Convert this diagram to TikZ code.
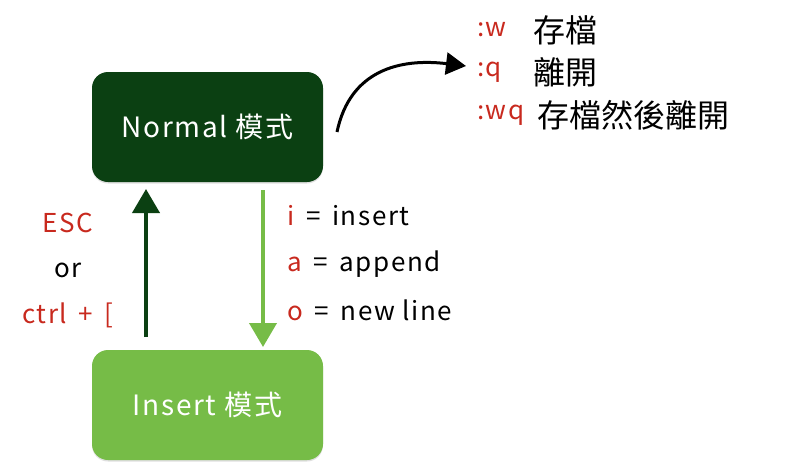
\documentclass[tikz,border=0pt]{standalone}
\usepackage{fontspec}
\setmainfont{Noto Sans CJK TC}
\usetikzlibrary{arrows.meta,shadows}
\definecolor{darkg}{HTML}{0B4012}
\definecolor{lightg}{HTML}{76BC47}
\definecolor{keyred}{HTML}{C8291E}
\newcommand{\wide}{\addfontfeature{LetterSpace=6}}
\newcommand{\eqsp}{\hspace{0.45em}=\hspace{0.45em}}
\begin{document}
\begin{tikzpicture}[x=1pt,y=-1pt,
  modebox/.style={rounded corners=16pt,minimum width=231pt,minimum height=110pt,
    text=white,font=\fontsize{28}{32}\selectfont\wide,
    drop shadow={shadow xshift=0pt,shadow yshift=-1.5pt,opacity=0.25}},
  lbl/.style={font=\fontsize{26}{30}\selectfont\wide,inner sep=0pt},
  cmd/.style={font=\fontsize{26}{30}\selectfont\wide,inner sep=0pt,anchor=west},
  zh/.style={font=\fontsize{32}{36}\selectfont,inner sep=0pt,anchor=west},
  key/.style={text=keyred}]
\useasboundingbox (0,0) rectangle (810,472);
\node[modebox,fill=darkg] (normal) at (207.5,127) {Normal 模式};
\node[modebox,fill=lightg] (insert) at (207.5,405) {Insert 模式};
% arrows
\coordinate (upbot) at (146,337);
\coordinate (uptop) at (146,189);
\draw[darkg,line width=4pt,-{Triangle[length=24pt,width=27pt]}] (upbot) -- (uptop);
\coordinate (dntop) at (263,190);
\coordinate (dnbot) at (263,347);
\draw[lightg,line width=4pt,-{Triangle[length=24pt,width=27pt]}] (dntop) -- (dnbot);
% left labels
\node[lbl,key] (esc) at (68,223) {ESC};
\node[lbl] (or) at (68,270) {or};
\node[lbl,key] (ctrl) at (68,315) {ctrl\hspace{0.45em}+\hspace{0.45em}[};
% right labels
\node[cmd] (ci) at (287,216) {\textcolor{keyred}{i}\eqsp insert};
\node[cmd] (ca) at (287,264) {\textcolor{keyred}{a}\eqsp append};
\node[cmd] (co) at (287,310) {\textcolor{keyred}{o}\eqsp new line};
% top-right
\node[cmd,key] (kw) at (477,30) {:w};
\node[zh] (tw) at (533,30) {存檔};
\node[cmd,key] (kq) at (477,72) {:q};
\node[zh] (tq) at (533,72) {離開};
\node[cmd,key] (kwq) at (477,115) {:wq};
\node[zh] (twq) at (537,115) {存檔然後離開};
% curved arrow
\coordinate (cs) at (337,132);
\coordinate (ce) at (466,66);
\draw[black,line width=3pt,-{Triangle[length=20pt,width=22pt]}] (cs) .. controls (350,70) and (400,58) .. (ce);
\end{tikzpicture}
\end{document}
